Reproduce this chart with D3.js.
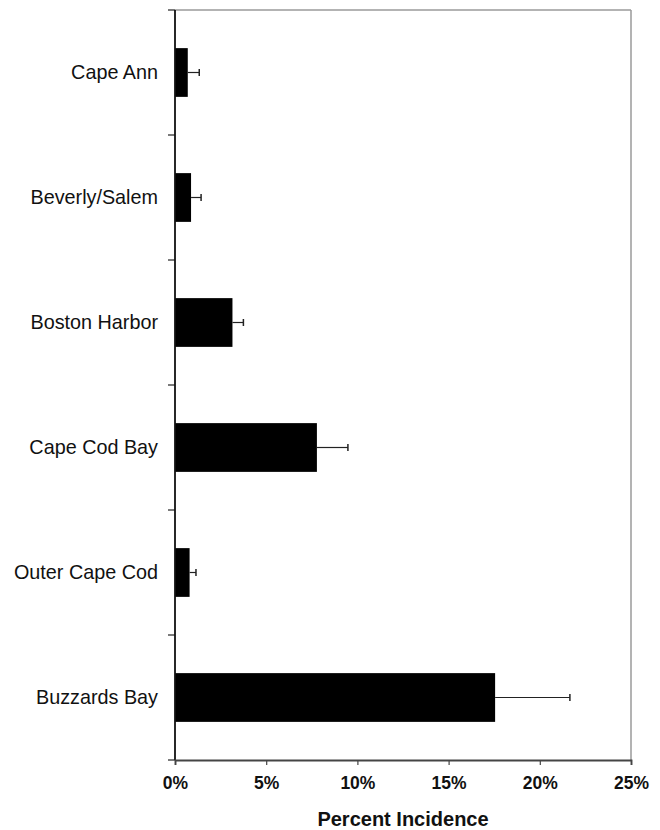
<!DOCTYPE html>
<html>
<head>
<meta charset="utf-8">
<script src="https://cdn.jsdelivr.net/npm/d3@7/dist/d3.min.js"></script>
<style>
  html, body { margin: 0; padding: 0; background: #fff; }
  svg { display: block; font-family: "Liberation Sans", Arial, sans-serif; }
</style>
</head>
<body>
<script>
// Regions, top to bottom
const regions = ["Cape Ann", "Beverly/Salem", "Boston Harbor", "Cape Cod Bay", "Outer Cape Cod", "Buzzards Bay"];
// Percent incidence per region
const incidence = [0.7, 0.88, 3.15, 7.78, 0.8, 17.55];
// Upper end of the error bar (percent)
const errorTop = [1.33, 1.43, 3.75, 9.48, 1.15, 21.65];
// X-axis ticks
const xTicks = [0, 5, 10, 15, 20, 25];

const W = 660, H = 830;
const m = { top: 10, right: 29, bottom: 70, left: 175 };
const iw = W - m.left - m.right, ih = H - m.top - m.bottom;

const svg = d3.select("body").append("svg").attr("width", W).attr("height", H);
const g = svg.append("g").attr("transform", `translate(${m.left},${m.top})`);

const x = d3.scaleLinear().domain([0, 25]).range([0, iw]);
const y = d3.scaleBand().domain(regions).range([0, ih]).paddingInner(0.61).paddingOuter(0.305);

// Plot frame: light grey top and right edges
g.append("line").attr("x1", 0).attr("x2", iw).attr("y1", 0).attr("y2", 0)
  .attr("stroke", "#9a9a9a").attr("stroke-width", 1.5);
g.append("line").attr("x1", iw).attr("x2", iw).attr("y1", 0).attr("y2", ih)
  .attr("stroke", "#9a9a9a").attr("stroke-width", 1.5);

// Bars
g.selectAll("rect.bar").data(regions).join("rect")
  .attr("class", "bar")
  .attr("x", 0)
  .attr("y", d => y(d))
  .attr("width", (d, i) => x(incidence[i]))
  .attr("height", y.bandwidth())
  .attr("fill", "#000");

// Error bars
const eb = g.selectAll("g.err").data(regions).join("g").attr("class", "err")
  .attr("transform", d => `translate(0,${y(d) + y.bandwidth() / 2})`);
eb.append("line")
  .attr("x1", (d, i) => x(incidence[i])).attr("x2", (d, i) => x(errorTop[i]))
  .attr("stroke", "#222").attr("stroke-width", 1.2);
eb.append("line")
  .attr("x1", (d, i) => x(errorTop[i])).attr("x2", (d, i) => x(errorTop[i]))
  .attr("y1", -3.5).attr("y2", 3.5)
  .attr("stroke", "#222").attr("stroke-width", 1.5);

// Category axis: ticks at band boundaries
const boundaries = d3.range(regions.length + 1).map(i => i * ih / regions.length);
g.append("g").selectAll("line").data(boundaries).join("line")
  .attr("x1", -7).attr("x2", 0).attr("y1", d => d).attr("y2", d => d)
  .attr("stroke", "#222").attr("stroke-width", 1.2);
g.append("line").attr("x1", 0).attr("x2", 0).attr("y1", 0).attr("y2", ih)
  .attr("stroke", "#111").attr("stroke-width", 1.8);

g.append("g").selectAll("text").data(regions).join("text")
  .attr("x", -17)
  .attr("y", d => y(d) + y.bandwidth() / 2)
  .attr("dy", "0.35em")
  .attr("text-anchor", "end")
  .attr("font-size", 19.8)
  .attr("fill", "#111")
  .text(d => d);

// Value axis
const xAxis = g.append("g").attr("transform", `translate(0,${ih})`)
  .call(d3.axisBottom(x).tickValues(xTicks).tickSize(5).tickPadding(12).tickFormat(d => d + "%"));
xAxis.select(".domain").attr("stroke", "#444").attr("stroke-width", 1.8);
xAxis.selectAll(".tick line").attr("stroke", "#444").attr("stroke-width", 1.2);
xAxis.selectAll(".tick text")
  .attr("font-family", "'Liberation Sans', Arial, sans-serif")
  .attr("font-size", 17.5).attr("font-weight", "bold").attr("fill", "#111");

svg.append("text")
  .attr("x", m.left + iw / 2)
  .attr("y", 826)
  .attr("text-anchor", "middle")
  .attr("font-size", 20).attr("font-weight", "bold").attr("fill", "#111")
  .text("Percent Incidence");
</script>
</body>
</html>
